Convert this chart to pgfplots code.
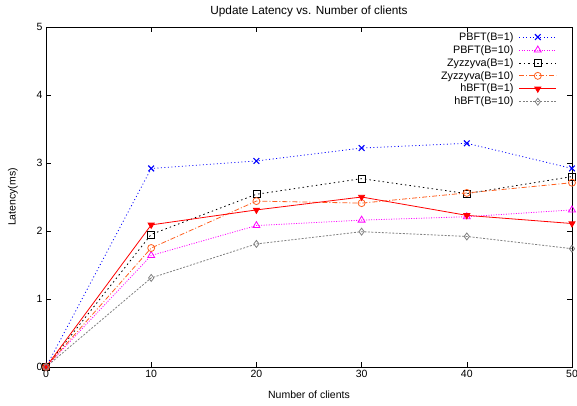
\documentclass[border=0pt]{standalone}
\usepackage{fontspec}
\setmainfont{Liberation Sans}
\usepackage{pgfplots}
\pgfplotsset{compat=1.18}
\definecolor{gporange}{RGB}{255,96,32}
\definecolor{gpmag}{RGB}{255,0,255}
\definecolor{gpgray}{RGB}{128,128,128}

\begin{document}
\begin{tikzpicture}
\useasboundingbox (-46pt,-38pt) rectangle (531pt,367pt);
\begin{axis}[
  at={(0pt,0pt)}, anchor=south west,
  scale only axis, width=526pt, height=340pt,
  xmin=0, xmax=50, ymin=0, ymax=5,
  xtick={0,10,...,50}, ytick={0,1,...,5},
  tick align=inside, major tick length=5pt,
  tick style={black, line width=0.6pt},
  axis line style={line width=0.9pt},
  font=\fontsize{10.5}{12}\selectfont,
  /pgf/number format/assume math mode=true,
  title={Update Latency vs. Number of clients},
  every axis title/.style={at={(axis description cs:0.5,1.038)}, anchor=base, font=\fontsize{11.8}{13}\selectfont},
  xlabel={Number of clients},
  xlabel style={at={(axis description cs:0.5,-0.092)}, anchor=base},
  ylabel={Latency(ms)},
  ylabel style={at={(axis description cs:-0.063,0.5)}, anchor=center},
  legend cell align=right,
  legend plot pos=right,
  legend style={draw=none, fill=none, at={(axis description cs:0.977,0.995)},
    anchor=north east, row sep=0.6pt, font=\fontsize{10.8}{12}\selectfont,
    nodes={inner sep=1.5pt}, column sep=4pt},
  legend image code/.code={\draw[mark repeat=2,mark phase=2] plot coordinates {(0pt,0pt)(18.5pt,0pt)(37pt,0pt)};},
  every axis plot/.append style={line width=0.8pt, mark size=3.5pt},
]

\addplot[blue, dash pattern=on 1pt off 2.5pt, mark=x, mark size=4pt, mark options={solid, line width=1.1pt}] coordinates {
(0,0) (10,2.92) (20,3.03) (30,3.22) (40,3.29) (50,2.92)
};
\addlegendentry{PBFT(B=1)}

\addplot[gpmag, dash pattern=on 1pt off 1.5pt, mark=triangle, mark size=4pt, mark options={solid}] coordinates {
(0,0) (10,1.64) (20,2.08) (30,2.16) (40,2.21) (50,2.31)
};
\addlegendentry{PBFT(B=10)}

\addplot[black, dash pattern=on 1.5pt off 3pt, mark=square, mark options={solid}] coordinates {
(0,0) (10,1.95) (20,2.54) (30,2.77) (40,2.55) (50,2.80)
};
\addlegendentry{Zyzzyva(B=1)}

\addplot[gporange, dash pattern=on 5pt off 2pt on 1pt off 2pt, mark=o, mark options={solid}] coordinates {
(0,0) (10,1.75) (20,2.44) (30,2.41) (40,2.56) (50,2.71)
};
\addlegendentry{Zyzzyva(B=10)}

\addplot[red, solid, mark=triangle*, mark options={solid, rotate=180}] coordinates {
(0,0) (10,2.09) (20,2.31) (30,2.50) (40,2.23) (50,2.11)
};
\addlegendentry{hBFT(B=1)}

\addplot[gpgray, dash pattern=on 2pt off 1.5pt, mark=diamond, mark options={solid}] coordinates {
(0,0) (10,1.31) (20,1.81) (30,1.99) (40,1.92) (50,1.74)
};
\addlegendentry{hBFT(B=10)}

\end{axis}
\end{tikzpicture}
\end{document}
